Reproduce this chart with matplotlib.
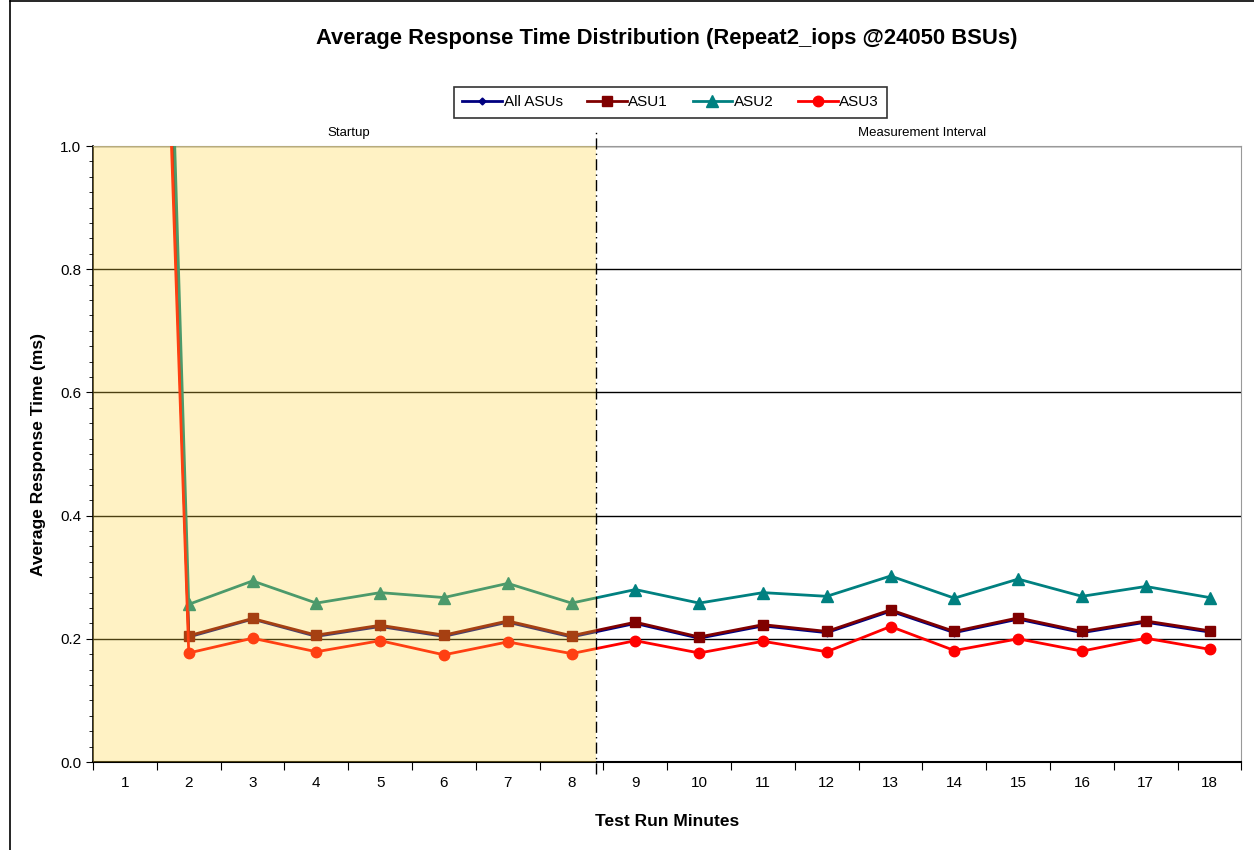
import matplotlib.pyplot as plt
from matplotlib.lines import Line2D
from matplotlib.ticker import MultipleLocator, FixedLocator

plt.rcParams['font.family'] = ['Liberation Sans', 'DejaVu Sans']

minutes = list(range(1, 19))
all_asus = [3.35, 0.203, 0.232, 0.204, 0.220, 0.204, 0.227, 0.203, 0.225,
            0.201, 0.221, 0.210, 0.245, 0.210, 0.232, 0.210, 0.227, 0.211]
asu1 = [3.30, 0.205, 0.233, 0.206, 0.222, 0.206, 0.229, 0.205, 0.227,
        0.203, 0.223, 0.212, 0.247, 0.212, 0.234, 0.212, 0.229, 0.213]
asu2 = [3.64, 0.256, 0.294, 0.258, 0.275, 0.267, 0.290, 0.258, 0.280,
        0.258, 0.275, 0.269, 0.302, 0.266, 0.297, 0.269, 0.285, 0.267]
asu3 = [3.22, 0.177, 0.201, 0.179, 0.197, 0.174, 0.195, 0.176, 0.197,
        0.177, 0.196, 0.179, 0.220, 0.181, 0.200, 0.180, 0.201, 0.183]
startup_end = 8

fig = plt.figure(figsize=(12.54, 8.5), dpi=100)
ax = fig.add_axes([0.0742, 0.1035, 0.9158, 0.7247])

ax.plot(minutes, all_asus, color='#000080', lw=2, marker='D', ms=3.5, label='All ASUs', zorder=3)
ax.plot(minutes, asu1, color='#800000', lw=2, marker='s', ms=7.5, label='ASU1', zorder=4)
ax.plot(minutes, asu2, color='#008080', lw=2, marker='^', ms=8, label='ASU2', zorder=4)
ax.plot(minutes, asu3, color='#FF0000', lw=2, marker='o', ms=7.5, label='ASU3', zorder=5)

# startup shading drawn over the lines, like the original (divider sits a bit left of the tick)
divider = startup_end + 0.39
ax.axvspan(0.5, divider, color='#FFD73C', alpha=0.3, zorder=6, lw=0)

ax.set_xlim(0.5, 18.5)
ax.set_ylim(0, 1.0)
ax.set_yticks([0, 0.2, 0.4, 0.6, 0.8, 1.0])
ax.set_yticklabels(['0.0', '0.2', '0.4', '0.6', '0.8', '1.0'])
ax.yaxis.set_minor_locator(MultipleLocator(0.025))
ax.grid(axis='y', color='black', lw=1, zorder=1)
ax.set_axisbelow(True)

ax.xaxis.set_major_locator(FixedLocator([m + 0.5 for m in range(0, 19)]))
ax.xaxis.set_ticklabels([])
ax.set_xticks(minutes, minor=True)
ax.set_xticklabels([str(m) for m in minutes], minor=True)
ax.tick_params(axis='x', which='major', length=6, direction='out')
ax.tick_params(axis='x', which='minor', length=0, pad=10, labelsize=11)
ax.tick_params(axis='y', which='major', length=5, labelsize=11)
ax.tick_params(axis='y', which='minor', length=3)

for s in ['top', 'right']:
    ax.spines[s].set_color('#999999')
ax.spines['left'].set_linewidth(1.2)
ax.spines['bottom'].set_linewidth(1.5)

ax.axvline(divider, ymin=-0.02, ymax=1.025, color='black', lw=1,
           ls=(0, (8, 3, 1, 3)), clip_on=False, zorder=7)
ax.text(4.5, 1.012, 'Startup', ha='center', va='bottom', fontsize=9.5)
ax.text(13.5, 1.012, 'Measurement Interval', ha='center', va='bottom', fontsize=9.5)

ax.set_xlabel('Test Run Minutes', fontsize=12.5, fontweight='bold', labelpad=17)
ax.set_ylabel('Average Response Time (ms)', fontsize=12.5, fontweight='bold', labelpad=10)
fig.text(0.532, 0.955, 'Average Response Time Distribution (Repeat2_iops @24050 BSUs)',
         ha='center', va='center', fontsize=15.8, fontweight='bold')

leg = ax.legend(loc='center', bbox_to_anchor=(0.503, 1.071), ncol=4, fontsize=11,
                frameon=True, fancybox=False, edgecolor='black', handlelength=2.6,
                handletextpad=0.1, columnspacing=1.6, borderpad=0.55)
leg.get_frame().set_linewidth(1.2)

# outer chart border (top and left edges visible in the original crop)
fig.add_artist(Line2D([10 / 1254, 1], [849 / 850, 849 / 850], color='black', lw=1.2,
                      transform=fig.transFigure))
fig.add_artist(Line2D([10 / 1254, 10 / 1254], [0, 849 / 850], color='black', lw=1.2,
                      transform=fig.transFigure))

fig.savefig('out.png', dpi=100)
